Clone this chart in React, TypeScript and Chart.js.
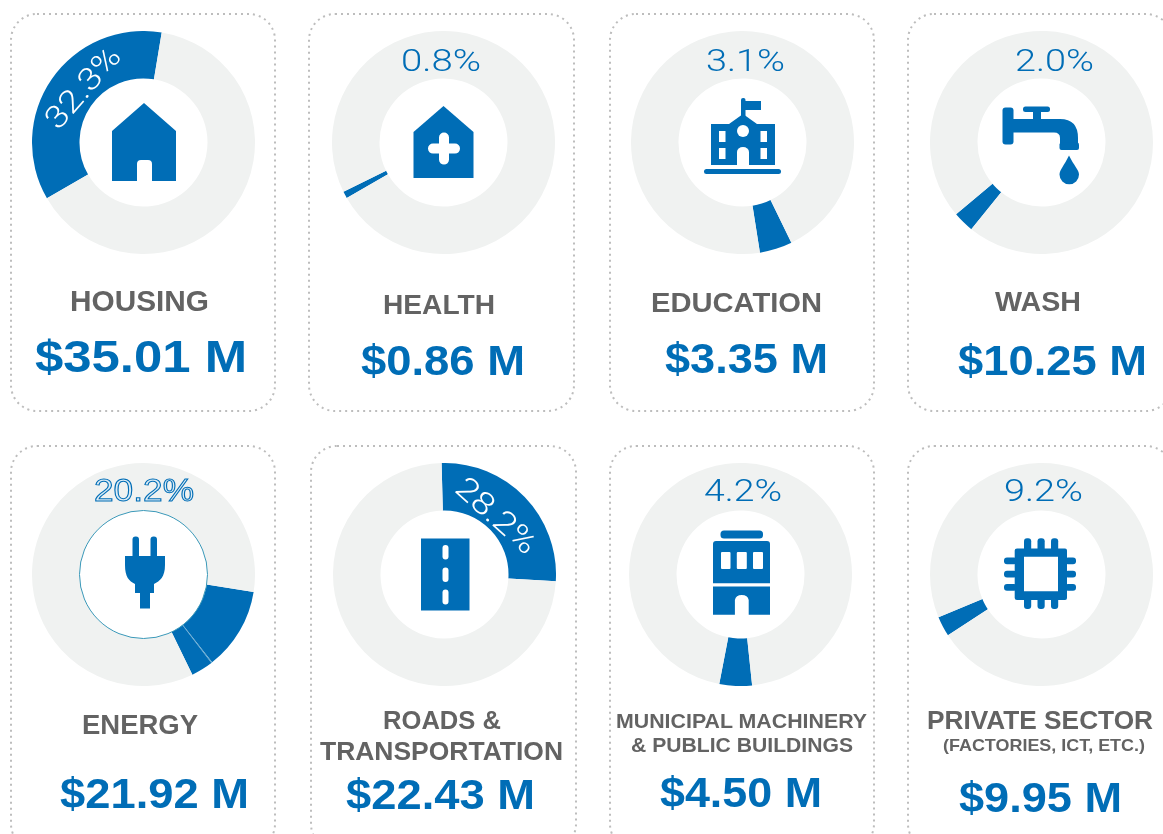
import React, { useEffect, useRef } from "react";
import { Chart, registerables } from "chart.js";

Chart.register(...registerables);

// ---- data ----
const sectors = ["Housing", "Health", "Education", "WASH", "Energy", "Roads & Transportation", "Municipal Machinery & Public Buildings", "Private Sector"];
const amounts = ["$35.01 M", "$0.86 M", "$3.35 M", "$10.25 M", "$21.92 M", "$22.43 M", "$4.50 M", "$9.95 M"];
const percents = ["32.3%", "0.8%", "3.1%", "2.0%", "20.2%", "28.2%", "4.2%", "9.2%"];
// where each blue wedge begins on its ring, degrees clockwise from the top
const wedgeStarts = [240, 240.2, 154, 219, 99, 358.5, 174, 237];
// blue wedge extent in degrees (Energy holds a hairline split)
const wedgeSpans = [[129.4], [3.6], [17], [11], [43, 0.5, 11.5], [95], [17], [10.5]];

// ---- layout and style ----
const BLUE = "#006db6";
const GREY = "#f0f2f1";
const TITLE = "#636363";
const HAIR = "#5aa5cf";
const R = 111.5;
const centers = [[143.5, 142], [443.5, 142], [742.5, 142], [1041, 142], [143.5, 574.5], [444, 574], [740.5, 574.5], [1041, 574.5]];
const cards = [[11, 14, 264, 397], [309, 14, 265, 397], [610, 14, 264, 397], [908, 14, 264, 397], [11, 446, 264, 404], [311, 446, 265, 404], [610, 446, 264, 404], [908, 446, 264, 404]];

type Line = { t: string; x: number; y: number; w: number; s: number };
const titleLines: Line[] = [
  { t: "HOUSING", x: 70, y: 310.5, w: 139, s: 29.5 },
  { t: "HEALTH", x: 383, y: 314, w: 112, s: 28 },
  { t: "EDUCATION", x: 651, y: 312, w: 171, s: 28.5 },
  { t: "WASH", x: 995, y: 311, w: 86, s: 28 },
  { t: "ENERGY", x: 82, y: 734, w: 116, s: 28 },
  { t: "ROADS &", x: 383, y: 729, w: 118, s: 26 },
  { t: "TRANSPORTATION", x: 320, y: 760, w: 243, s: 26 },
  { t: "MUNICIPAL MACHINERY", x: 616, y: 728, w: 251, s: 20.5 },
  { t: "& PUBLIC BUILDINGS", x: 631, y: 752, w: 222, s: 20.5 },
  { t: "PRIVATE SECTOR", x: 927, y: 729, w: 226, s: 26.5 },
  { t: "(FACTORIES, ICT, ETC.)", x: 943, y: 751, w: 202, s: 16.5 },
];
const amountPos = [[35, 372, 212, 45], [361, 375, 164, 42], [665, 373, 163, 42], [958, 375, 189, 42], [60, 808, 189, 42], [346, 809, 189, 42], [660, 807, 162, 42], [959, 812, 163, 42]];
const pctPos = [[0, 0, 0], [401, 71, 80], [706, 71, 79], [1015, 71, 79], [94, 501, 100], [0, 0, 0], [704, 501, 78], [1004, 501, 79]];

function Ring({ index }: { index: number }) {
  const ref = useRef<HTMLCanvasElement | null>(null);
  useEffect(() => {
    const spans = wedgeSpans[index];
    const used = spans.reduce((a, b) => a + b, 0);
    const chart = new Chart(ref.current as HTMLCanvasElement, {
      type: "doughnut",
      data: {
        labels: [...spans.map((_, k) => `${sectors[index]} ${k + 1}`), "Rest"],
        datasets: [{
          data: [...spans, 360 - used],
          backgroundColor: [...spans.map((_, k) => (k % 2 ? HAIR : BLUE)), GREY],
          borderWidth: 0,
          hoverOffset: 0,
        }],
      },
      options: {
        responsive: false,
        animation: false,
        rotation: wedgeStarts[index],
        cutout: "57.4%",
        events: [],
        plugins: { legend: { display: false }, tooltip: { enabled: false } },
      },
    });
    return () => chart.destroy();
  }, [index]);
  const [cx, cy] = centers[index];
  return (
    <canvas
      ref={ref}
      width={R * 2}
      height={R * 2}
      style={{ position: "absolute", left: cx - R, top: cy - R, width: R * 2, height: R * 2 }}
    />
  );
}

const Icons = () => (
  <g fill={BLUE}>
    {/* house */}
    <path fillRule="evenodd" d="M144 103 L176 131 V181 H152 V164 Q152 160 148 160 H141 Q137 160 137 164 V181 H112 V131 Z" />
    {/* clinic */}
    <path d="M443.5 106 L473.5 132 V178 H413.5 V132 Z" />
    <path fill="#fff" d="M439 137.5 a5 5 0 0 1 10 0 V143.6 H455 a5 5 0 0 1 0 10 H449 V159.6 a5 5 0 0 1 -10 0 V153.6 H433 a5 5 0 0 1 0 -10 H439 Z" />
    {/* school */}
    <rect x="741" y="98" width="4.5" height="22" rx="2" />
    <rect x="744" y="101" width="17" height="9" />
    <path d="M711 124 H729 L743 114 L757 124 H775 V165 H711 Z" />
    <rect x="704" y="169" width="77" height="5" rx="2.5" />
    <circle cx="743" cy="131" r="6" fill="#fff" />
    <g fill="#fff">
      <rect x="719" y="131" width="6.5" height="11" />
      <rect x="719" y="148" width="6.5" height="11" />
      <rect x="760.5" y="131" width="6.5" height="11" />
      <rect x="760.5" y="148" width="6.5" height="11" />
      <path d="M737 165 V152 a6 5 0 0 1 12 0 V165 Z" />
    </g>
    {/* tap */}
    <rect x="1002.5" y="107.5" width="11" height="37" rx="3" />
    <rect x="1023" y="106.5" width="27" height="5.5" rx="2.5" />
    <rect x="1033" y="110" width="8" height="10" />
    <path d="M1013 119 H1060 Q1078 119 1078 138 V143 H1060 V138 Q1060 132.5 1054 132.5 H1013 Z" />
    <rect x="1059.5" y="142.4" width="19.5" height="7.6" rx="2" />
    <path d="M1069 155.6 C1064 166 1059.5 170 1059.5 174.5 A9.75 9.75 0 0 0 1079 174.5 C1079 170 1074 166 1069 155.6 Z" />
    {/* plug */}
    <rect x="132.5" y="536.5" width="6.5" height="24" rx="3" />
    <rect x="150.5" y="536.5" width="6.5" height="24" rx="3" />
    <path d="M125 556 H165 V565 C165 577 160 581 154 584 V593 H150 V608.5 H140 V593 H135 V584 C129 581 125 577 125 565 Z" />
    {/* road */}
    <rect x="421" y="538.5" width="48.5" height="72" />
    <g fill="#fff">
      <rect x="442.5" y="545" width="6" height="14.5" rx="3" />
      <rect x="442.5" y="567.5" width="6" height="14.5" rx="3" />
      <rect x="442.5" y="589.5" width="6" height="15" rx="3" />
    </g>
    {/* municipal building */}
    <rect x="720.5" y="530.5" width="42.5" height="8" rx="3.5" />
    <path d="M716 541 H767 Q770 541 770 544 V583.3 H713 V544 Q713 541 716 541 Z" />
    <path d="M713 586.6 H770 V614.8 H748.7 V600 a7 6 0 0 0 -13.8 0 V614.8 H713 Z" />
    <g fill="#fff">
      <rect x="721" y="552" width="9.5" height="17" rx="1" />
      <rect x="736.8" y="552" width="10" height="17" rx="1" />
      <rect x="753" y="552" width="10" height="17" rx="1" />
    </g>
    {/* chip */}
    <path fillRule="evenodd" d="M1017 548.5 H1065 Q1067 548.5 1067 550.5 V598 Q1067 600 1065 600 H1017 Q1014.7 600 1014.7 598 V550.5 Q1014.7 548.5 1017 548.5 Z M1024 556.8 V591.3 H1058 V556.8 Z" />
    {[1024, 1037.5, 1051].map((x) => (
      <g key={x}>
        <rect x={x} y="538.3" width="7.2" height="13" rx="3" />
        <rect x={x} y="597" width="7.2" height="12" rx="3" />
      </g>
    ))}
    {[557.5, 570.7, 584].map((y) => (
      <g key={y}>
        <rect x="1004" y={y} width="13" height="6.8" rx="3" />
        <rect x="1065" y={y} width="11" height="6.8" rx="3" />
      </g>
    ))}
  </g>
);

const SANS = "'Liberation Sans', Arial, sans-serif";
const LIGHT = "Roboto, sans-serif";

export default function App() {
  return (
    <div style={{ position: "fixed", left: 0, top: 0, width: 1163, height: 834, overflow: "hidden", background: "#fff" }}>
      {sectors.map((_, i) => <Ring key={i} index={i} />)}
      <svg width={1163} height={834} style={{ position: "absolute", left: 0, top: 0, pointerEvents: "none" }}>
        {cards.map(([x, y, w, h], i) => (
          <rect key={i} x={x} y={y} width={w} height={h} rx={26} fill="none" stroke="#bdbdbd" strokeWidth={2} strokeDasharray="2 4" />
        ))}
        <circle cx={143.5} cy={574.5} r={64} fill="none" stroke="#3a98b8" strokeWidth={1} />
        <Icons />
        {titleLines.map((l) => (
          <text key={l.t} x={l.x} y={l.y} textLength={l.w} lengthAdjust="spacingAndGlyphs" fontFamily={SANS} fontWeight={700} fontSize={l.s} fill={TITLE}>{l.t}</text>
        ))}
        {amounts.map((a, i) => {
          const [x, y, w, s] = amountPos[i];
          return <text key={a} x={x} y={y} textLength={w} lengthAdjust="spacingAndGlyphs" fontFamily={SANS} fontWeight={700} fontSize={s} fill={BLUE}>{a}</text>;
        })}
        {percents.map((p, i) => {
          if (i === 0 || i === 5 || i === 4) return null;
          const [x, y, w] = pctPos[i];
          return <text key={p} x={x} y={y} textLength={w} lengthAdjust="spacingAndGlyphs" fontFamily={LIGHT} fontWeight={300} fontSize={31} fill={BLUE}>{p}</text>;
        })}
        <text x={pctPos[4][0]} y={pctPos[4][1]} textLength={pctPos[4][2]} lengthAdjust="spacingAndGlyphs" fontFamily={SANS} fontWeight={400} fontSize={31} fill="#dcebf4" stroke={BLUE} strokeWidth={1}>{percents[4]}</text>
        <text transform="translate(82 87) rotate(-49)" textAnchor="middle" y={11} textLength={98} lengthAdjust="spacingAndGlyphs" fontFamily={LIGHT} fontWeight={300} fontSize={31} fill="#fff">{percents[0]}</text>
        <text transform="translate(497 515) rotate(42)" textAnchor="middle" y={11} textLength={98} lengthAdjust="spacingAndGlyphs" fontFamily={LIGHT} fontWeight={300} fontSize={31} fill="#fff">{percents[5]}</text>
      </svg>
    </div>
  );
}
